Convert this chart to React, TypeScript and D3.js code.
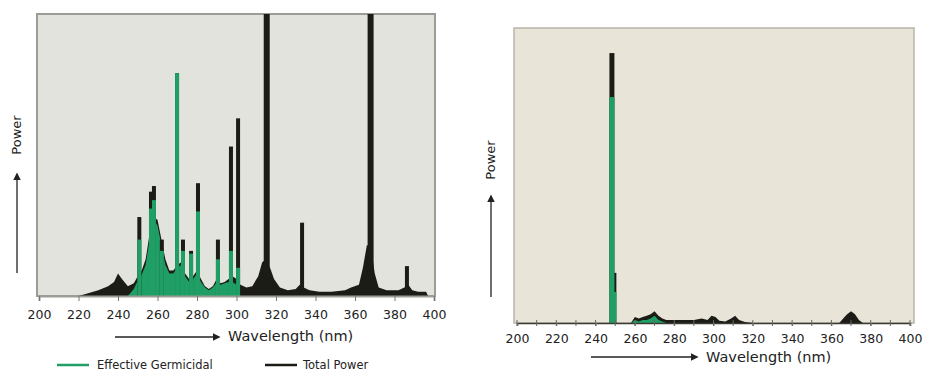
import React, { useEffect, useRef } from 'react';
import * as d3 from 'd3';

// wavelength ticks (nm)
const tickValues = [200, 220, 240, 260, 280, 300, 320, 340, 360, 380, 400];
const minorTicks = [200, 210, 220, 230, 240, 250, 260, 270, 280, 290, 300, 310, 320, 330, 340, 350, 360, 370, 380, 390, 400];

// left panel: broad continuum [nm, total, germicidal]
const leftWl = [220, 224, 230, 235, 238, 240, 242, 245, 248, 250, 252, 254, 256, 258, 260, 262, 264, 266, 268, 270, 272, 274, 276, 278, 280, 282, 284, 286, 288, 290, 292, 294, 296, 298, 300, 302, 305, 308, 311, 313, 315, 317, 319, 322, 326, 330, 332, 334, 337, 342, 348, 355, 358, 362, 364, 366, 368, 370, 372, 376, 382, 385, 387, 389, 392, 396, 397];
const leftTotal = [0, 0.8, 2, 3.5, 5, 8, 6, 3.5, 4.5, 7, 9, 13, 22, 28, 27, 20, 13, 9, 9, 11, 12, 8, 6, 7, 9, 6, 3.5, 2.5, 3.5, 6, 4.5, 5, 6, 7, 6, 4, 3, 3.5, 7, 12, 13, 10, 6, 3, 2, 2.5, 4, 3, 2, 1.5, 1.5, 2, 3, 4, 10, 18, 18, 8, 3, 2, 2, 3, 4, 2, 1.5, 1.5, 0];
const leftGerm = [0, 0, 0, 0, 0, 0, 0, 0, 2.5, 5.5, 7.5, 11, 20, 27, 25, 18, 11, 8, 8, 10, 11, 7, 5, 6, 8, 5, 3, 2, 3, 5, 4, 4.5, 5, 5, 4, 0, 0, 0, 0, 0, 0, 0, 0, 0, 0, 0, 0, 0, 0, 0, 0, 0, 0, 0, 0, 0, 0, 0, 0, 0, 0, 0, 0, 0, 0, 0, 0];

// left panel: emission lines
const leftLineWl = [250.8, 256.7, 258.2, 262.2, 269.9, 272.9, 277.0, 280.5, 290.6, 297.2, 300.8, 315.3, 333.2, 367.9, 386.3];
const leftLineTotal = [28, 37, 39, 20, 79, 20, 16, 40, 20, 53, 63, 110, 26, 110, 10.6];
const leftLineGerm = [20, 31, 34, 16, 79, 16, 15, 30, 13, 16, 10, 0, 0, 0, 0];

// right panel: continuum
const rightWl = [258, 260, 262, 264, 266, 268, 270, 272, 274, 276, 280, 285, 290, 294, 297, 299, 301, 303, 306, 309, 311, 313, 316, 320, 364, 366, 368, 370, 372, 374, 376];
const rightTotal = [0, 2, 1.5, 2, 2.5, 3, 4, 2.5, 1.5, 1, 1, 1, 1, 1.5, 1, 2.5, 2, 0.8, 0.5, 1.5, 2.5, 1, 0.3, 0, 0, 1.5, 3, 4, 3, 1, 0];
const rightGerm = [0, 1, 0.5, 1, 1, 1.5, 2.5, 1, 0.5, 0, 0, 0, 0, 0, 0, 0, 0, 0, 0, 0, 0, 0, 0, 0, 0, 0, 0, 0, 0, 0, 0];

// right panel: emission lines
const rightLineWl = [248.3, 249.3];
const rightLineTotal = [91.5, 17];
const rightLineGerm = [76.6, 10.5];

const GREEN = '#1f9f66';
const BLACK = '#1b1c16';

type Panel = {
  id: string;
  x0: number; x1: number; y0: number; y1: number;
  ax0: number; ax1: number;
  wl: number[]; total: number[]; germ: number[];
  lwl: number[]; ltot: number[]; lgerm: number[];
  bg: string; frame: string; frameW: number;
  minor: boolean;
};

const panels: Panel[] = [
  {
    id: 'l', x0: 37, x1: 435, y0: 14, y1: 296, ax0: 39, ax1: 434,
    wl: leftWl, total: leftTotal, germ: leftGerm,
    lwl: leftLineWl, ltot: leftLineTotal, lgerm: leftLineGerm,
    bg: '#e2e3dc', frame: '#9c9c96', frameW: 2, minor: false,
  },
  {
    id: 'r', x0: 514, x1: 914, y0: 28, y1: 323, ax0: 517, ax1: 910,
    wl: rightWl, total: rightTotal, germ: rightGerm,
    lwl: rightLineWl, ltot: rightLineTotal, lgerm: rightLineGerm,
    bg: '#e8e4d8', frame: '#b8b4aa', frameW: 1.5, minor: true,
  },
];

const Spectrum = ({ p }: { p: Panel }) => {
  const axisRef = useRef<SVGGElement>(null);
  const x = d3.scaleLinear().domain([200, 400]).range([p.ax0, p.ax1]);
  const y = d3.scaleLinear().domain([0, 100]).range([p.y1, p.y0]);

  const idx = d3.range(p.wl.length);
  const areaTotal = d3.area<number>().x(i => x(p.wl[i])).y0(y(0)).y1(i => y(p.total[i]))(idx) || '';
  const areaGerm = d3.area<number>().x(i => x(p.wl[i])).y0(y(0)).y1(i => y(p.germ[i]))(idx) || '';

  useEffect(() => {
    const g = d3.select(axisRef.current);
    g.selectAll('*').remove();
    const axis = d3.axisBottom(x).tickValues(tickValues).tickSize(p.minor ? 3 : 5).tickPadding(p.minor ? 8 : 9).tickFormat(d3.format('d'));
    g.call(axis);
    g.select('.domain').attr('stroke', p.minor ? '#3a3a34' : '#9c9c96').attr('stroke-width', p.minor ? 1.5 : 2);
    g.selectAll('.tick line').attr('stroke', '#777');
    g.selectAll('.tick text').attr('fill', '#222').style('font-family', 'DejaVu Sans').style('font-size', '12.5px');
    if (p.minor) {
      g.selectAll('.minor').data(minorTicks).enter().append('line')
        .attr('class', 'minor')
        .attr('x1', d => x(d)).attr('x2', d => x(d))
        .attr('y1', -3).attr('y2', 3)
        .attr('stroke', '#666').attr('stroke-width', 1);
    }
  }, []);

  // line thickness: saturated lines are drawn heavier
  const lw = (t: number) => (t >= 100 ? 6 : p.minor ? 5 : 4);

  return (
    <g>
      <defs>
        <clipPath id={`clip-${p.id}`}>
          <rect x={p.x0} y={p.y0} width={p.x1 - p.x0} height={p.y1 - p.y0} />
        </clipPath>
      </defs>
      <rect x={p.x0} y={p.y0} width={p.x1 - p.x0} height={p.y1 - p.y0} fill={p.bg} stroke={p.frame} strokeWidth={p.frameW} />
      <g clipPath={`url(#clip-${p.id})`}>
        <path d={areaTotal} fill={BLACK} />
        <path d={areaGerm} fill={GREEN} />
        {p.lwl.map((w, i) => (
          <rect key={`t${i}`} x={x(w) - lw(p.ltot[i]) / 2} y={y(p.ltot[i])} width={lw(p.ltot[i])} height={y(0) - y(p.ltot[i])} fill={BLACK} />
        ))}
        {p.lwl.map((w, i) => (p.lgerm[i] > 0 ? (
          <rect key={`g${i}`} x={x(w) - lw(p.ltot[i]) / 2} y={y(p.lgerm[i])} width={lw(p.ltot[i])} height={y(0) - y(p.lgerm[i])} fill={GREEN} />
        ) : null))}
      </g>
      <g ref={axisRef} transform={`translate(0,${p.y1})`} />
    </g>
  );
};

const Arrow = ({ x1, y1, x2, y2 }: { x1: number; y1: number; x2: number; y2: number }) => (
  <line x1={x1} y1={y1} x2={x2} y2={y2} stroke="#222" strokeWidth={1.3} markerEnd="url(#arrowHead)" />
);

export default function App() {
  const font = 'DejaVu Sans';
  return (
    <svg width={926} height={372} style={{ display: 'block', position: 'absolute', left: 0, top: 0, background: '#fff' }}>
      <defs>
        <marker id="arrowHead" viewBox="0 0 10 10" refX="8" refY="5" markerWidth="6" markerHeight="6" orient="auto">
          <path d="M0,0 L10,5 L0,10 z" fill="#222" />
        </marker>
      </defs>
      {panels.map(p => <Spectrum key={p.id} p={p} />)}

      {/* left labels */}
      <text transform="translate(21,135) rotate(-90)" textAnchor="middle" fontFamily={font} fontSize={13} fill="#222">Power</text>
      <Arrow x1={17} y1={273} x2={17} y2={174} />
      <Arrow x1={115} y1={337} x2={219} y2={337} />
      <text x={228} y={341} fontFamily={font} fontSize={14.5} fill="#222">Wavelength (nm)</text>

      {/* legend */}
      <line x1={57} y1={365} x2={89} y2={365} stroke={GREEN} strokeWidth={2.5} />
      <text x={97} y={369} fontFamily={font} fontSize={11.5} fill="#222">Effective Germicidal</text>
      <line x1={265} y1={365} x2={297} y2={365} stroke={BLACK} strokeWidth={2.5} />
      <text x={303} y={369} fontFamily={font} fontSize={11.5} fill="#222">Total Power</text>

      {/* right labels */}
      <text transform="translate(495,160) rotate(-90)" textAnchor="middle" fontFamily={font} fontSize={13} fill="#222">Power</text>
      <Arrow x1={491} y1={297} x2={491} y2={196} />
      <Arrow x1={591} y1={357} x2={697} y2={357} />
      <text x={706} y={362} fontFamily={font} fontSize={14.5} fill="#222">Wavelength (nm)</text>
    </svg>
  );
}
